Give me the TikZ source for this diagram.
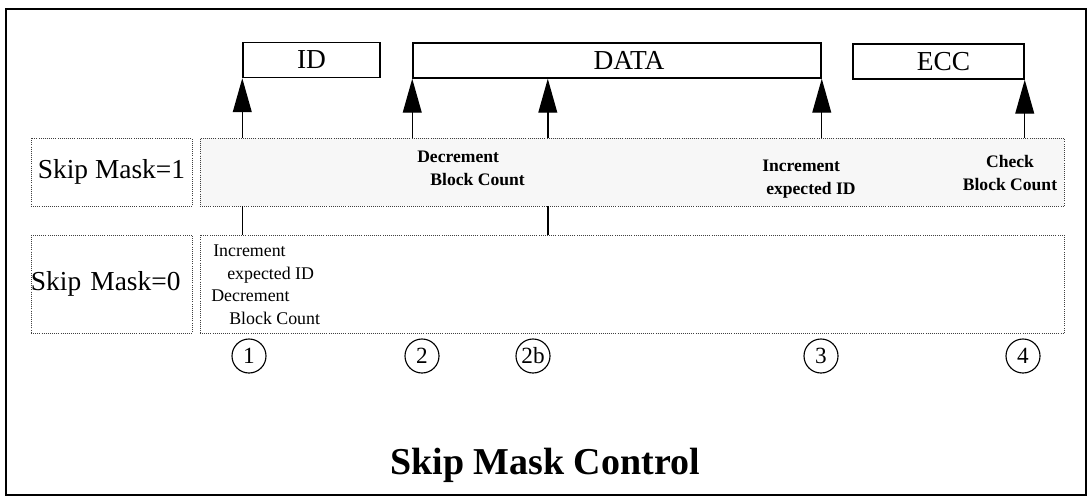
\documentclass[tikz,border=0pt]{standalone}
\usepackage{fontspec}
\setmainfont{Liberation Serif}
\usetikzlibrary{calc,arrows.meta,positioning}
\tikzset{
  smframe/.style={line width=1.3pt, black},
  smfield/.style={rectangle, draw=black, line width=1pt, inner sep=0pt,
                  minimum height=0.875cm, font=\fontsize{19.5}{22}\selectfont},
  smlabel/.style={rectangle, draw=black!75, densely dotted, line width=0.5pt,
                  inner sep=0pt, minimum width=4.025cm, font=\fontsize{19.5}{22}\selectfont},
  smrow/.style  ={rectangle, draw=black!75, densely dotted, line width=0.5pt,
                  inner sep=0pt, minimum width=21.6cm},
  smnote/.style ={font=\fontsize{12.7}{15.9}\selectfont, align=left, inner sep=0pt},
  smbold/.style ={font=\fontsize{12.5}{16.5}\selectfont\bfseries, inner sep=0pt},
  smstep/.style ={circle, draw=black, line width=0.8pt, minimum size=0.85cm,
                  inner sep=0pt, font=\fontsize{16.5}{18}\selectfont},
  smarrow/.style={-{Triangle[length=0.85cm, width=0.47cm]}, line width=1pt},
  smlink/.style ={line width=1pt},
}
\begin{document}
\begin{tikzpicture}[x=0.025cm, y=-0.025cm]
  \useasboundingbox (0,0) rectangle (1089,501);
  \draw[smframe] (6,9) rectangle (1086,495);

  % ---- fields of the sector ------------------------------------------------
  \node[smfield, minimum width=3.425cm] (idbox)   at (311.5,60)   {ID};
  \node[smfield, minimum width=10.2cm]  (databox) at (617,60.5)   {\hspace*{0.6cm}DATA};
  \node[smfield, minimum width=4.275cm] (eccbox)  at (938.5,61.5) {\hspace*{0.25cm}ECC};

  % ---- the two mask rows ---------------------------------------------------
  \node[smlabel, minimum height=1.7cm] (mask1) at (111.5,172) {Skip Mask=1};
  \node[smrow, minimum height=1.7cm, fill=black!3] (row1) at (632,172) {};
  \node[smlabel, minimum height=2.45cm, text width=4.025cm, align=left]
       (mask0) at (111.5,284) {Skip Mask=0};
  \node[smrow, minimum height=2.45cm] (row0) at (632,284) {};

  \node[smbold, anchor=north west, align=left] (dec1) at (417,151)
       {Decrement\\\hspace*{0.33cm}Block Count};
  \node[smbold, anchor=north west, align=left] (inc1) at (762,160)
       {Increment\\\hspace*{0.1cm}expected ID};
  \node[smbold, align=center] (chk1) at (1010,173) {Check\\Block Count};
  \node[smnote, anchor=north west] (row0txt) at (211,245)
       {\hspace*{0.05cm}Increment\\\hspace*{0.4cm}expected ID\\Decrement\\\hspace*{0.45cm}Block Count};

  % ---- arrows up to the fields ---------------------------------------------
  \coordinate (datamid) at ($(databox.south west)!0.331!(databox.south east)$);
  \draw[smarrow] (row1.north -| idbox.south west)   -- (idbox.south west);
  \draw[smarrow] (row1.north -| databox.south west) -- (databox.south west);
  \draw[smarrow] (row1.north -| datamid)            -- (datamid);
  \draw[smarrow] (row1.north -| databox.south east) -- (databox.south east);
  \draw[smarrow] (row1.north -| eccbox.south east)  -- (eccbox.south east);
  \draw[smlink]  (row0.north -| idbox.south west)   -- (row1.south -| idbox.south west);
  \draw[smlink]  (row0.north -| datamid)            -- (row1.south -| datamid);

  % ---- step markers --------------------------------------------------------
  \foreach \n/\x in {1/249, 2/422, 2b/533, 3/821, 4/1023} {
    \node[smstep] (step\n) at (\x,356) {\n};
  }

  \node[font=\fontsize{27}{30}\selectfont\bfseries] (title) at (545,465)
       {Skip Mask Control};
\end{tikzpicture}
\end{document}
